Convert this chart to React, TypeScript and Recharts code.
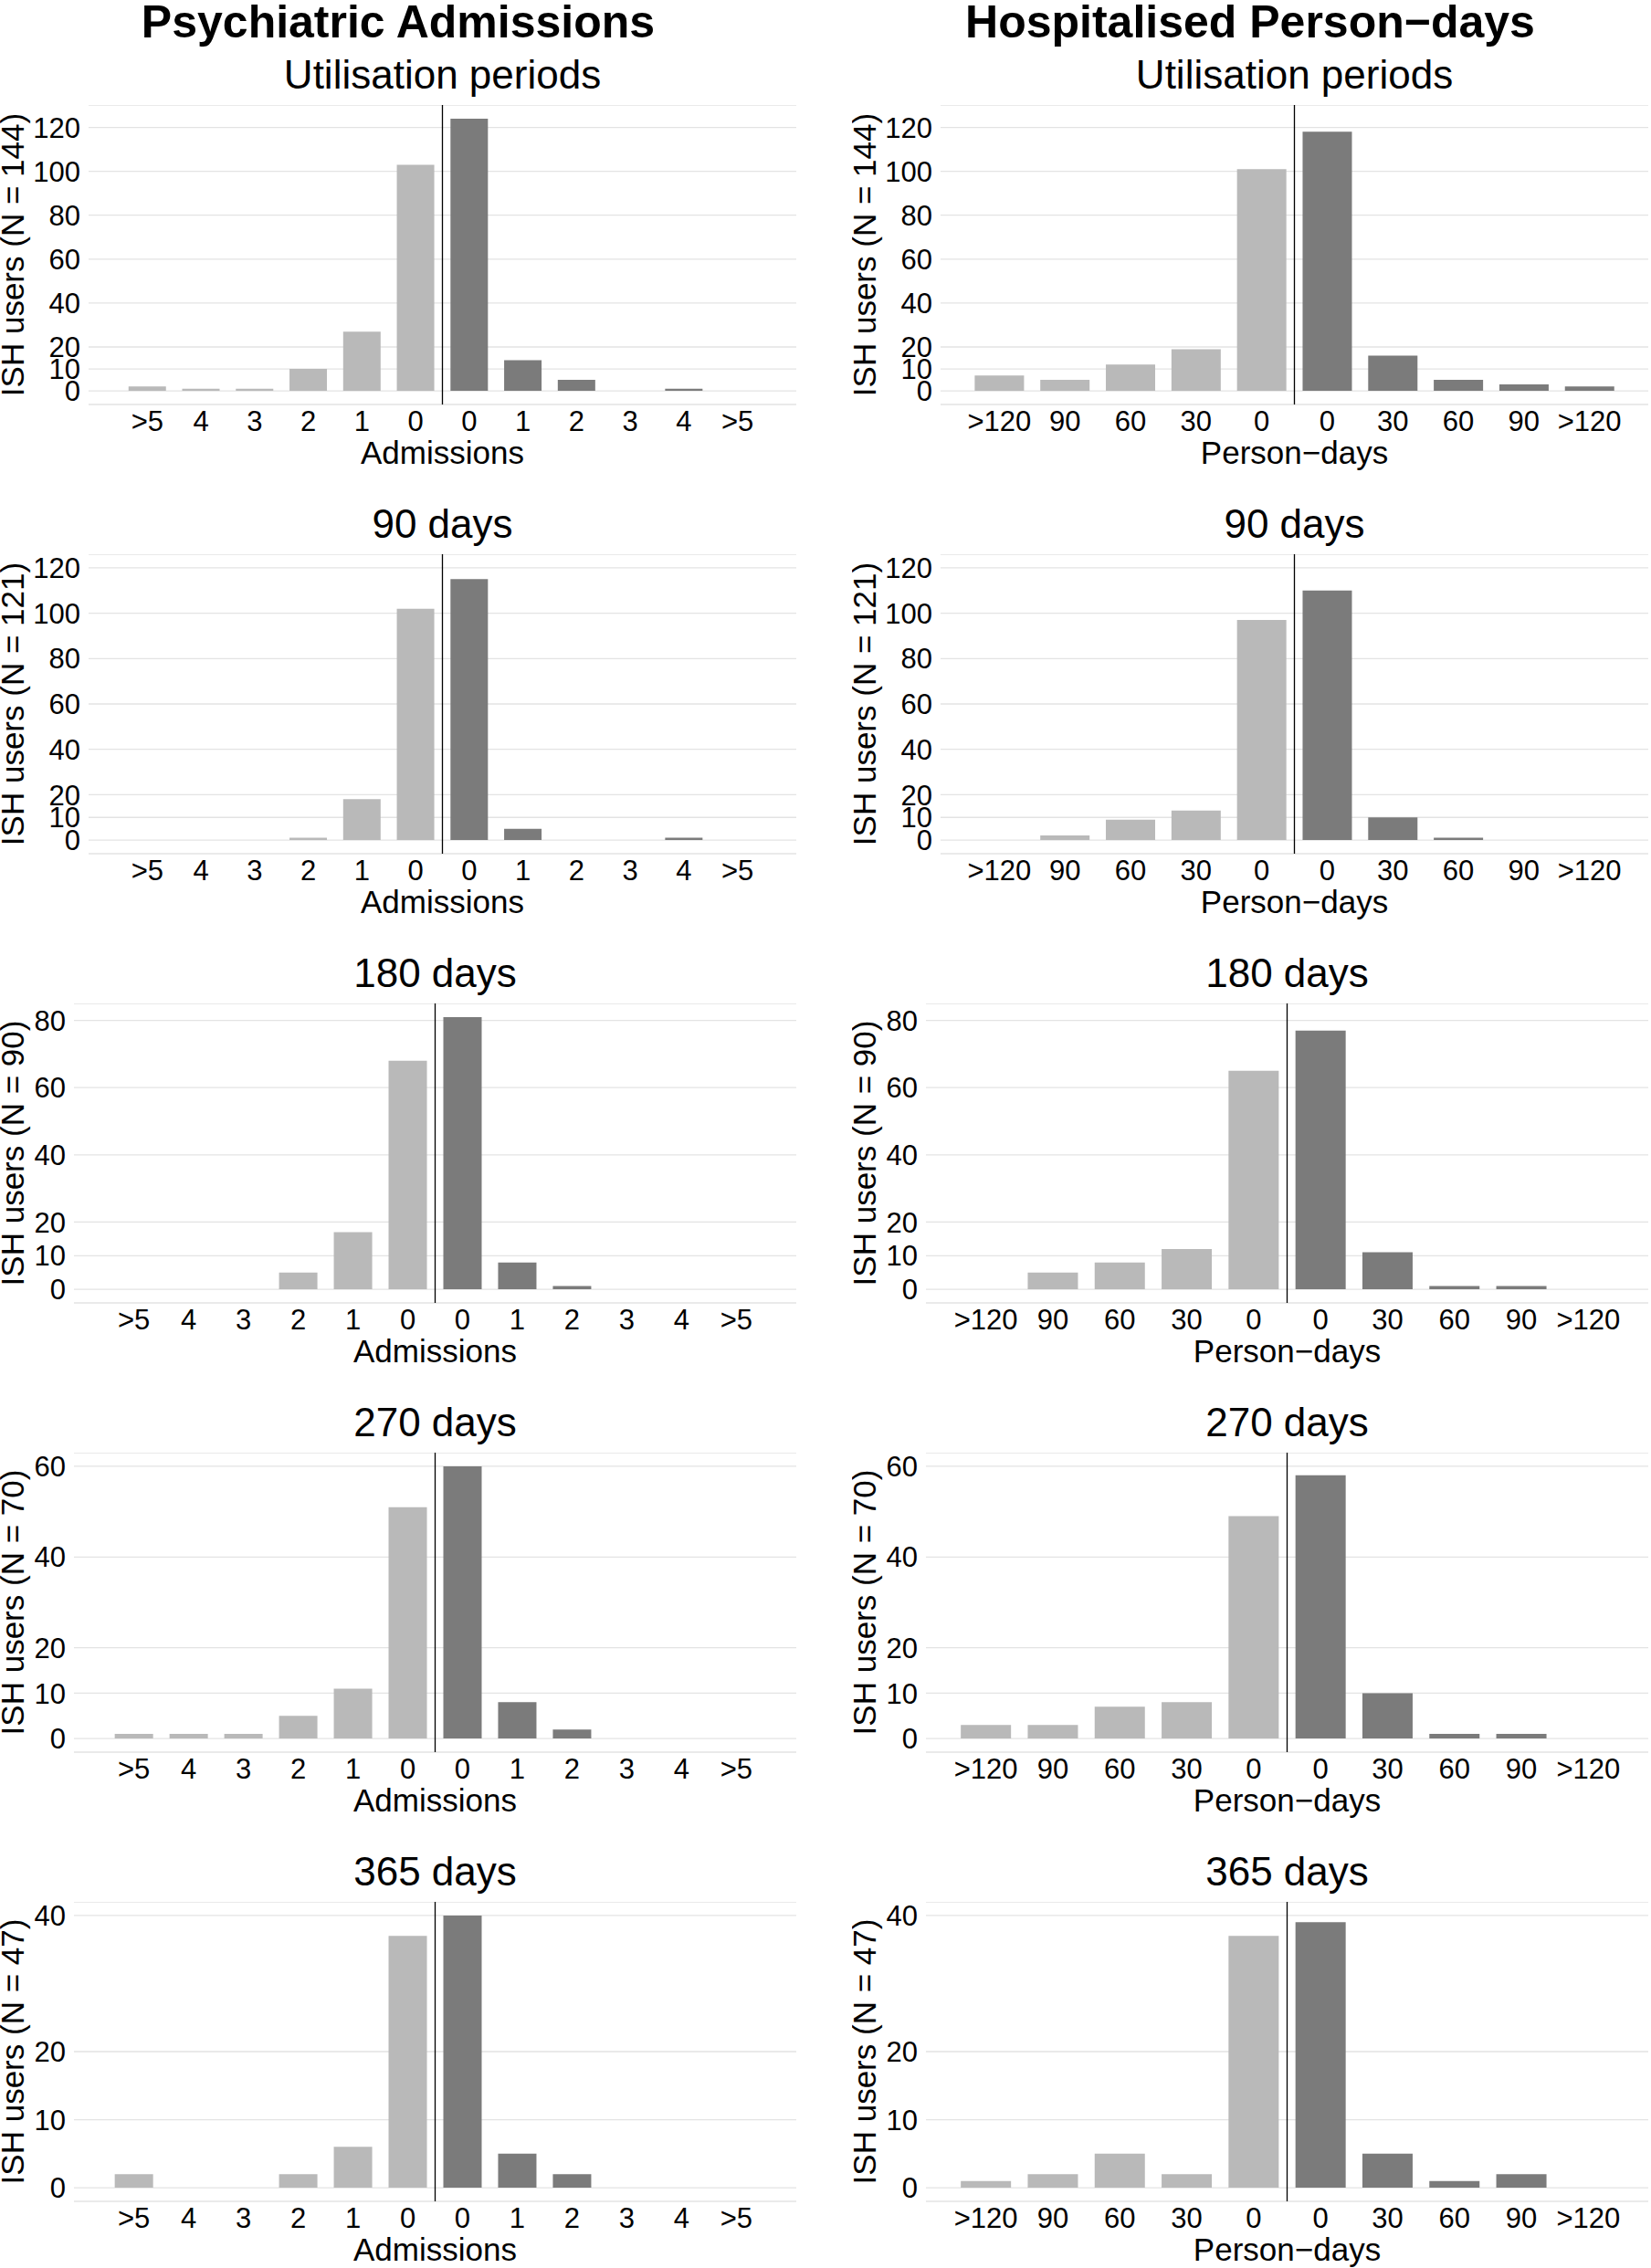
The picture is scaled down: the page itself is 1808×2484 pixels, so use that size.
import React from "react";
import { BarChart, Bar, Cell, XAxis, YAxis, CartesianGrid, ReferenceLine } from "recharts";

const FONT = '"Liberation Sans", Arial, Helvetica, sans-serif';
const LIGHT = "#B9B9B9";
const DARK = "#7B7B7B";

// categories
const admissionLabels = [">5", "4", "3", "2", "1", "0", "0", "1", "2", "3", "4", ">5"];
const personDayLabels = [">120", "90", "60", "30", "0", "0", "30", "60", "90", ">120"];

const periods = ["Utilisation periods", "90 days", "180 days", "270 days", "365 days"];
const groupSizes = [144, 121, 90, 70, 47];
const rowMax = [124, 120, 81, 60, 40];
const rowTicks = [
  [0, 10, 20, 40, 60, 80, 100, 120],
  [0, 10, 20, 40, 60, 80, 100, 120],
  [0, 10, 20, 40, 60, 80],
  [0, 10, 20, 40, 60],
  [0, 10, 20, 40],
];

// ISH users per category (before | after)
const admUtil = [2, 1, 1, 10, 27, 103, 124, 14, 5, 0, 1, 0];
const adm90 = [0, 0, 0, 1, 18, 102, 115, 5, 0, 0, 1, 0];
const adm180 = [0, 0, 0, 5, 17, 68, 81, 8, 1, 0, 0, 0];
const adm270 = [1, 1, 1, 5, 11, 51, 60, 8, 2, 0, 0, 0];
const adm365 = [2, 0, 0, 2, 6, 37, 40, 5, 2, 0, 0, 0];

const daysUtil = [7, 5, 12, 19, 101, 118, 16, 5, 3, 2];
const days90 = [0, 2, 9, 13, 97, 110, 10, 1, 0, 0];
const days180 = [0, 5, 8, 12, 65, 77, 11, 1, 1, 0];
const days270 = [3, 3, 7, 8, 49, 58, 10, 1, 1, 0];
const days365 = [1, 2, 5, 2, 37, 39, 5, 1, 2, 0];

const admissions = [admUtil, adm90, adm180, adm270, adm365];
const personDays = [daysUtil, days90, days180, days270, days365];

// layout
const COL_X = [0, 933];
const ROW_TOP = [115, 607, 1099, 1591, 2083];
const W = 872;
const PH = 328;
const XAH = 80;

const XTick = ({ x, y, payload, labels }: any) => (
  <text x={x} y={y + 29} textAnchor="middle" fontSize={31} fontFamily={FONT} fill="#000">
    {labels[payload.value]}
  </text>
);

const YTick = ({ x, y, payload }: any) => (
  <text x={x} y={y} dy="0.36em" textAnchor="end" fontSize={31} fontFamily={FONT} fill="#000">
    {payload.value}
  </text>
);

const XTitle = ({ viewBox, text }: any) => (
  <text
    x={viewBox.x + viewBox.width / 2}
    y={viewBox.y + 65}
    textAnchor="middle"
    fontSize={35}
    fontFamily={FONT}
    fill="#000"
  >
    {text}
  </text>
);

const YTitle = ({ viewBox, text }: any) => (
  <text
    transform={`translate(26, ${viewBox.y + viewBox.height / 2}) rotate(-90)`}
    textAnchor="middle"
    fontSize={35}
    fontFamily={FONT}
    fill="#000"
  >
    {text}
  </text>
);

function Panel({ values, labels, row, xTitle, gap }: any) {
  const data = values.map((v: number, i: number) => ({ id: i, users: v }));
  const ticks = rowTicks[row];
  const max = rowMax[row];
  const yw = ticks[ticks.length - 1] >= 100 ? 97 : 81;
  const plotW = W - yw;
  const edge = 0.083 * plotW;
  const step = (plotW - 2 * edge) / (labels.length - 1);
  const pad = edge - step / 2;
  const half = labels.length / 2;

  return (
    <BarChart
      width={W}
      height={PH + XAH}
      data={data}
      margin={{ top: 0, right: 0, bottom: 0, left: 0 }}
      barCategoryGap={gap}
    >
      <CartesianGrid vertical={false} stroke="#E3E3E3" strokeWidth={1.3} />
      <XAxis
        dataKey="id"
        type="category"
        height={XAH}
        padding={{ left: pad, right: pad }}
        axisLine={false}
        tickLine={false}
        tickSize={0}
        tickMargin={0}
        interval={0}
        tick={<XTick labels={labels} />}
        label={<XTitle text={xTitle} />}
      />
      <YAxis
        type="number"
        width={yw}
        domain={[-0.05 * max, 1.05 * max]}
        ticks={ticks}
        allowDataOverflow
        axisLine={false}
        tickLine={false}
        tickSize={0}
        tickMargin={9}
        interval={0}
        tick={<YTick />}
        label={<YTitle text={`ISH users (N = ${groupSizes[row]})`} />}
      />
      <ReferenceLine x={half - 1} position="end" stroke="#000" strokeWidth={1.3} />
      <Bar dataKey="users" isAnimationActive={false}>
        {data.map((d: any, i: number) => (
          <Cell key={i} fill={i < half ? LIGHT : DARK} />
        ))}
      </Bar>
    </BarChart>
  );
}

export default function App() {
  const columns = [
    { title: "Psychiatric Admissions", xTitle: "Admissions", labels: admissionLabels, sets: admissions, gap: "15%" },
    { title: "Hospitalised Person\u2212days", xTitle: "Person\u2212days", labels: personDayLabels, sets: personDays, gap: "12.5%" },
  ];

  return (
    <div
      style={{
        position: "absolute",
        left: 0,
        top: 0,
        width: 1808,
        height: 2484,
        overflow: "hidden",
        background: "#fff",
      }}
    >
      <svg width={1808} height={2484} style={{ position: "absolute", left: 0, top: 0 }}>
        {columns.map((c, ci) => (
          <g key={ci}>
            <text
              x={COL_X[ci] + W / 2}
              y={41}
              textAnchor="middle"
              fontSize={50}
              fontWeight="bold"
              fontFamily={FONT}
              fill="#000"
            >
              {c.title}
            </text>
            {periods.map((p, ri) => {
              const yw = rowTicks[ri][rowTicks[ri].length - 1] >= 100 ? 97 : 81;
              return (
                <text
                  key={ri}
                  x={COL_X[ci] + (yw + W) / 2}
                  y={ROW_TOP[ri] - 18}
                  textAnchor="middle"
                  fontSize={44}
                  fontFamily={FONT}
                  fill="#000"
                >
                  {p}
                </text>
              );
            })}
          </g>
        ))}
      </svg>
      {columns.map((c, ci) =>
        c.sets.map((values, ri) => (
          <div key={`${ci}-${ri}`} style={{ position: "absolute", left: COL_X[ci], top: ROW_TOP[ri] }}>
            <Panel values={values} labels={c.labels} row={ri} xTitle={c.xTitle} gap={c.gap} />
          </div>
        ))
      )}
    </div>
  );
}
